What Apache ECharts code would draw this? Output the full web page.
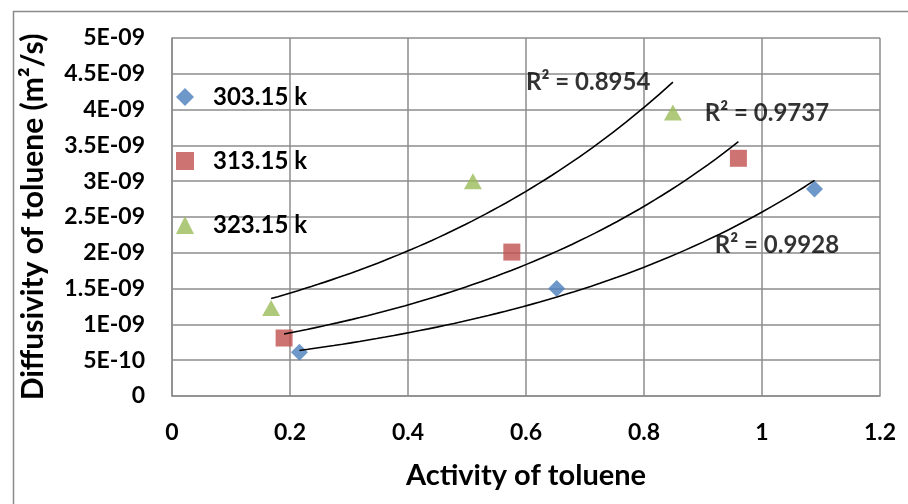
<!DOCTYPE html>
<html>
<head>
<meta charset="utf-8">
<script src="https://cdn.jsdelivr.net/npm/echarts@6/dist/echarts.min.js"></script>
<style>
  html, body { margin: 0; padding: 0; background: #fff; }
  #chart { width: 908px; height: 504px; }
</style>
</head>
<body>
<div id="chart"></div>
<script>
// Measured diffusivity of toluene vs. activity at three temperatures
const seriesNames = ['303.15 k', '313.15 k', '323.15 k'];
const activity303 = [0.216, 0.652, 1.089];
const diffusivity303 = [6.1e-10, 1.50e-9, 2.89e-9];
const activity313 = [0.190, 0.576, 0.960];
const diffusivity313 = [8.1e-10, 2.01e-9, 3.32e-9];
const activity323 = [0.168, 0.510, 0.849];
const diffusivity323 = [1.23e-9, 3.00e-9, 3.96e-9];
const r2Texts = ['R² = 0.9928', 'R² = 0.9737', 'R² = 0.8954'];

const xTicks = [0, 0.2, 0.4, 0.6, 0.8, 1, 1.2];

// where each R² label sits (data coordinates of its left-middle point)
const r2Anchors = [[0.92, 2.1e-9], [0.903, 3.95e-9], [0.60, 4.38e-9]];

const colors = ['#4a7ebb', '#c0504d', '#9bbb59'];
const symbols = ['diamond', 'rect', 'triangle'];
const symbolSizes = [[17, 17], [17, 17], [18, 16]];

const groups = [
  [activity303, diffusivity303],
  [activity313, diffusivity313],
  [activity323, diffusivity323]
];

// least-squares exponential fit y = a·e^(b·x), sampled over the data range
function expTrend(xs, ys, steps) {
  const n = xs.length;
  const ls = ys.map(v => Math.log(v));
  const mx = xs.reduce((s, v) => s + v, 0) / n;
  const ml = ls.reduce((s, v) => s + v, 0) / n;
  let sxy = 0, sxx = 0;
  for (let i = 0; i < n; i++) {
    sxy += (xs[i] - mx) * (ls[i] - ml);
    sxx += (xs[i] - mx) * (xs[i] - mx);
  }
  const b = sxy / sxx;
  const lnA = ml - b * mx;
  const x0 = Math.min(...xs), x1 = Math.max(...xs);
  const pts = [];
  for (let k = 0; k <= steps; k++) {
    const x = x0 + (x1 - x0) * k / steps;
    pts.push([x, Math.exp(lnA + b * x)]);
  }
  return pts;
}

function sciLabel(v) {
  if (Math.abs(v) < 1e-15) return '0';
  const e = Math.floor(Math.log10(Math.abs(v)) + 1e-9);
  const m = Math.round(v / Math.pow(10, e) * 100) / 100;
  const sign = e < 0 ? '-' : '+';
  const ee = String(Math.abs(e)).padStart(2, '0');
  return m + 'E' + sign + ee;
}

const font = 'Lato, "Open Sans", "DejaVu Sans", sans-serif';
const gridColor = '#8c8c8c';

const series = [];
groups.forEach((g, i) => {
  series.push({
    name: seriesNames[i],
    type: 'scatter',
    symbol: symbols[i],
    symbolSize: symbolSizes[i],
    itemStyle: { color: colors[i] },
    data: g[0].map((x, j) => [x, g[1][j]]),
    z: 3
  });
});
groups.forEach((g, i) => {
  series.push({
    name: 'trend ' + seriesNames[i],
    type: 'line',
    showSymbol: false,
    symbol: 'none',
    lineStyle: { color: '#000', width: 1.6 },
    data: expTrend(g[0], g[1], 60),
    silent: true,
    z: 4
  });
});
series.push({
  name: 'R²',
  type: 'scatter',
  symbolSize: 0,
  silent: true,
  data: r2Anchors.map((p, i) => ({ value: p, label: { formatter: r2Texts[i] } })),
  label: {
    show: true,
    position: [0, 0],
    align: 'left',
    verticalAlign: 'middle',
    color: '#000',
    fontFamily: font,
    fontWeight: 'bold',
    fontSize: 24
  },
  z: 5
});

const chart = echarts.init(document.getElementById('chart'), null, { renderer: 'canvas' });
chart.setOption({
  backgroundColor: '#fff',
  animation: false,
  grid: { left: 172, right: 28, top: 38, bottom: 108 },
  graphic: [{
    type: 'rect',
    left: 11, top: 9,
    shape: { width: 1000, height: 600 },
    style: { fill: 'none', stroke: '#8a8a8a', lineWidth: 1.5 },
    silent: true
  }],
  legend: {
    data: seriesNames.map((n, i) => ({ name: n, icon: symbols[i] })),
    orient: 'vertical',
    left: 171,
    top: 80,
    itemGap: 40,
    itemWidth: 18,
    itemHeight: 18,
    textStyle: {
      fontFamily: font, fontWeight: 'bold', fontSize: 24, lineHeight: 18,
      color: '#000', padding: [0, 0, 0, 14]
    },
    selectedMode: false
  },
  xAxis: {
    type: 'value',
    min: 0, max: 1.2, interval: 0.2,
    name: 'Activity of toluene',
    nameLocation: 'middle',
    nameGap: 65,
    nameTextStyle: { fontFamily: font, fontWeight: 'bold', fontSize: 29, color: '#000' },
    axisLine: { show: true, lineStyle: { color: gridColor, width: 1.5 } },
    axisTick: { show: false },
    axisLabel: {
      margin: 25,
      fontFamily: font, fontWeight: 'bold', fontSize: 23, color: '#000',
      formatter: v => {
        const t = xTicks.find(x => Math.abs(x - v) < 1e-9);
        return t === undefined ? '' : String(t);
      }
    },
    splitLine: { show: true, lineStyle: { color: gridColor, width: 1.5 } }
  },
  yAxis: {
    type: 'value',
    min: 0, max: 5e-9, interval: 5e-10,
    name: 'Diffusivity of toluene (m²/s)',
    nameLocation: 'middle',
    nameGap: 124,
    nameTextStyle: { fontFamily: font, fontWeight: 'bold', fontSize: 30, color: '#000' },
    axisLine: { show: true, lineStyle: { color: gridColor, width: 1.5 } },
    axisTick: { show: false },
    axisLabel: {
      margin: 27,
      fontFamily: font, fontWeight: 'bold', fontSize: 23, color: '#000',
      formatter: sciLabel
    },
    splitLine: { show: true, lineStyle: { color: gridColor, width: 1.5 } }
  },
  series: series
});
</script>
</body>
</html>
